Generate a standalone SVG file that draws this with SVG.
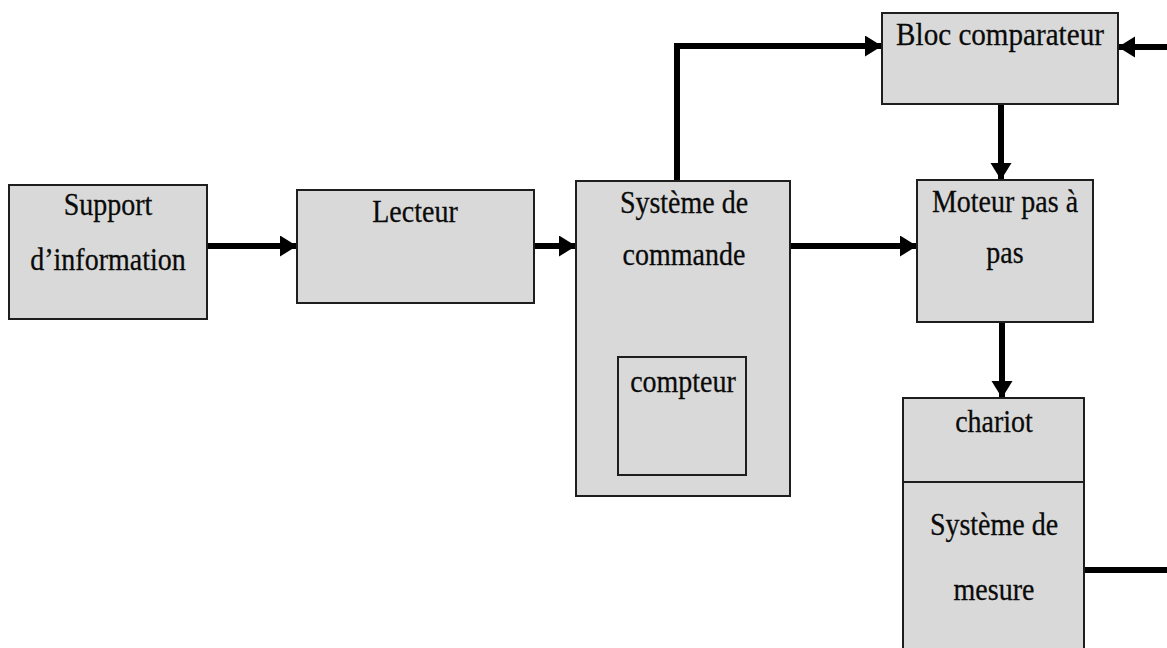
<svg xmlns="http://www.w3.org/2000/svg" width="1167" height="648" viewBox="0 0 1167 648">
  <style>
    .box { fill: #d9d9d9; stroke: #1e1e1e; stroke-width: 2; }
    .inner { fill: none; stroke: #1e1e1e; stroke-width: 2; }
    .lbl { font-family: "Liberation Serif", "Times New Roman", serif; font-size: 28px; fill: #0a0a0a; stroke: #0a0a0a; stroke-width: 0.25; text-anchor: middle; }
    .wire { fill: none; stroke: #000; stroke-width: 6; }
  </style>
  <defs>
    <marker id="head" markerUnits="userSpaceOnUse" markerWidth="18" markerHeight="22" refX="17" refY="10.5" orient="auto">
      <path d="M0,0 L17,10.5 L0,21 z" fill="#000"/>
    </marker>
  </defs>
  <rect width="1167" height="648" fill="#fff"/>

  <!-- connectors -->
  <g id="connectors">
    <line class="wire" x1="207" y1="246" x2="297" y2="246" marker-end="url(#head)"/>
    <line class="wire" x1="534" y1="246" x2="576" y2="246" marker-end="url(#head)"/>
    <line class="wire" x1="790" y1="246" x2="917" y2="246" marker-end="url(#head)"/>
    <polyline class="wire" points="677,181 677,46 882,46" marker-end="url(#head)"/>
    <line class="wire" x1="1167" y1="47" x2="1118" y2="47" marker-end="url(#head)"/>
    <line class="wire" x1="1001" y1="104" x2="1001" y2="180" marker-end="url(#head)"/>
    <line class="wire" x1="1002" y1="322" x2="1002" y2="398" marker-end="url(#head)"/>
    <line class="wire" x1="1084" y1="570" x2="1167" y2="570"/>
  </g>

  <!-- labels are stretched slightly upright: translate to the baseline, then scale y -->
  <g id="support">
    <rect class="box" x="9" y="185" width="198" height="134"/>
    <text class="lbl" transform="translate(108,215) scale(1,1.1)">Support</text>
    <text class="lbl" transform="translate(108,270) scale(1,1.1)">d’information</text>
  </g>

  <g id="lecteur">
    <rect class="box" x="297" y="190" width="237" height="113"/>
    <text class="lbl" transform="translate(415,222) scale(1,1.1)">Lecteur</text>
  </g>

  <g id="systeme-commande">
    <rect class="box" x="576" y="181" width="214" height="315"/>
    <text class="lbl" transform="translate(684,213) scale(1,1.1)">Système de</text>
    <text class="lbl" transform="translate(684,265) scale(1,1.1)">commande</text>
  </g>

  <g id="compteur">
    <rect class="inner" x="618" y="357" width="128" height="118"/>
    <text class="lbl" transform="translate(683,392) scale(1,1.1)">compteur</text>
  </g>

  <g id="bloc-comparateur">
    <rect class="box" x="882" y="13" width="236" height="91"/>
    <text class="lbl" transform="translate(1000,45) scale(1.04,1.1)">Bloc comparateur</text>
  </g>

  <g id="moteur">
    <rect class="box" x="917" y="180" width="176" height="142"/>
    <text class="lbl" transform="translate(1005,212) scale(1,1.1)">Moteur pas à</text>
    <text class="lbl" transform="translate(1005,263) scale(1,1.1)">pas</text>
  </g>

  <g id="chariot">
    <rect class="box" x="903" y="398" width="181" height="300"/>
    <line class="inner" x1="903" y1="482" x2="1084" y2="482"/>
    <text class="lbl" transform="translate(994,432) scale(1,1.1)">chariot</text>
  </g>

  <g id="systeme-mesure">
    <text class="lbl" transform="translate(994,535) scale(1,1.1)">Système de</text>
    <text class="lbl" transform="translate(994,600) scale(1,1.1)">mesure</text>
  </g>
</svg>
